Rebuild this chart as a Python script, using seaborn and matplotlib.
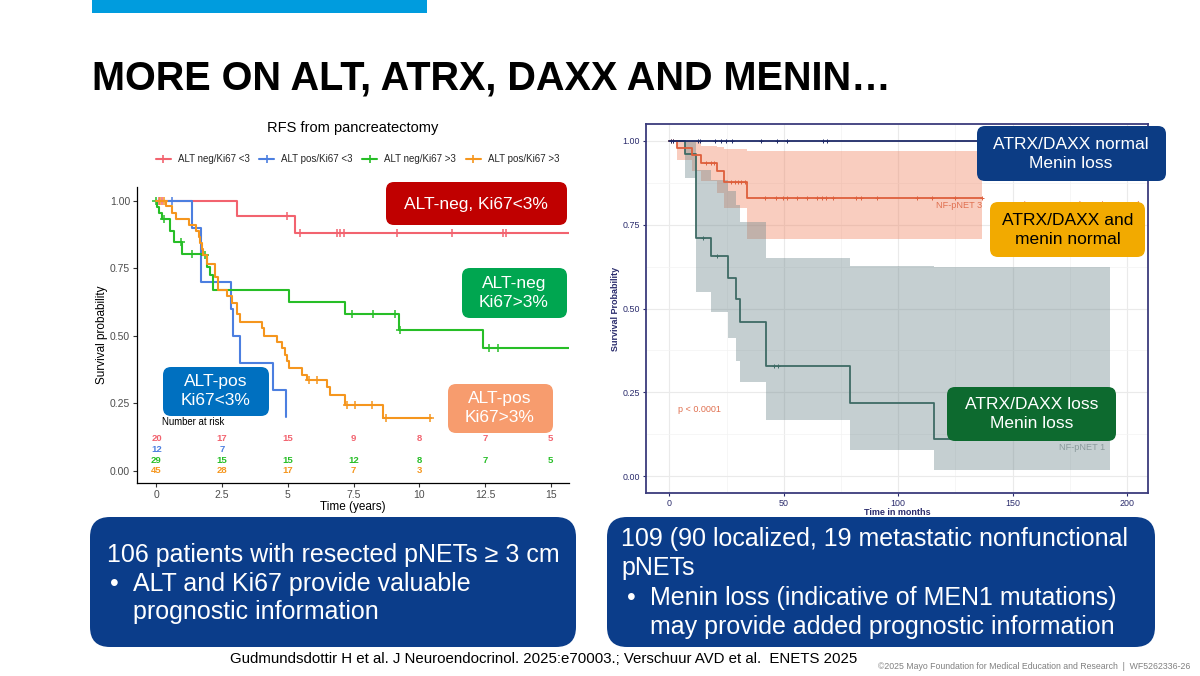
import numpy as np
import matplotlib
matplotlib.use("Agg")
import matplotlib.pyplot as plt
import seaborn as sns
from matplotlib.patches import FancyBboxPatch, Rectangle
from matplotlib.lines import Line2D

W, H, DPI = 1200, 676, 100

# ---- left panel: RFS from pancreatectomy (years) ----
red_t = [0, 3.06, 5.26, 15.7]
red_s = [1.0, 0.941, 0.878, 0.878]
red_c = [0.1, 0.2, 4.97, 5.47, 6.87, 7.0, 7.12, 9.16, 11.23, 13.18, 13.32]

blue_t = [0, 1.35, 1.68, 2.85, 2.93, 3.19, 4.43, 4.94]
blue_s = [1.0, 0.90, 0.70, 0.60, 0.50, 0.40, 0.30, 0.20]
blue_c = [0.58]

green_t = [0, 0.02, 0.08, 0.2, 0.5, 0.65, 0.97, 1.73, 1.92, 2.05, 2.17,
           5.04, 7.19, 9.22, 12.42, 15.7]
green_s = [1.0, 0.975, 0.955, 0.931, 0.889, 0.846, 0.803, 0.797, 0.754, 0.723, 0.668,
           0.625, 0.582, 0.52, 0.455, 0.455]
green_c = [0.0, 0.27, 0.92, 1.35, 1.85, 7.44, 8.24, 9.06, 9.28, 12.65, 12.99]

orange_t = [0, 0.36, 0.58, 0.75, 1.22, 1.52, 1.62, 1.66, 1.74, 1.79, 1.92, 2.24, 2.36,
            2.68, 2.87, 3.06, 3.19, 4.01, 4.08, 4.59, 4.78, 4.90, 4.97, 5.03, 5.54,
            5.73, 6.49, 6.59, 7.19, 8.62, 10.45]
orange_s = [1.0, 0.978, 0.955, 0.932, 0.909, 0.887, 0.865, 0.842, 0.82, 0.797, 0.766,
            0.717, 0.668, 0.645, 0.62, 0.58, 0.55, 0.528, 0.50, 0.478, 0.455, 0.43,
            0.405, 0.38, 0.355, 0.335, 0.31, 0.28, 0.245, 0.197, 0.197]
orange_c = [0.15, 0.27, 5.79, 6.11, 7.25, 7.57, 8.21, 8.75, 10.40]

left_labels = ["ALT neg/Ki67 <3", "ALT pos/Ki67 <3", "ALT neg/Ki67 >3", "ALT pos/Ki67 >3"]
left_colors = ["#F2636F", "#4C7FE0", "#27BE27", "#F5961E"]

risk_times = [0, 2.5, 5, 7.5, 10, 12.5, 15]
risk_red = ["20", "17", "15", "9", "8", "7", "5"]
risk_blue = ["12", "7", "", "", "", "", ""]
risk_green = ["29", "15", "15", "12", "8", "7", "5"]
risk_orange = ["45", "28", "17", "7", "3", "", ""]

# ---- right panel: survival (months) ----
normal_t = [0, 185]
normal_s = [1.0, 1.0]
normal_c = [0.7, 1.5, 12.4, 13.2, 19.9, 22.4, 24.6, 27.4, 39.9, 47.0, 51.6, 67.0, 68.8]

loss_t = [0, 6.85, 11.5, 18.2, 25.7, 29.1, 30.7, 42.1, 78.9, 115.6, 192.5]
loss_s = [1.0, 0.96, 0.709, 0.657, 0.592, 0.527, 0.459, 0.328, 0.219, 0.11, 0.11]
loss_lo = [1.0, 0.889, 0.55, 0.49, 0.413, 0.343, 0.28, 0.167, 0.078, 0.02, 0.02]
loss_hi = [1.0, 1.0, 0.913, 0.884, 0.849, 0.809, 0.759, 0.652, 0.628, 0.625, 0.625]
loss_c = [14.5, 20.7, 45.8, 47.5]

nf3_t = [0, 3.2, 9.9, 14.0, 20.7, 24.1, 33.8, 136.5]
nf3_s = [1.0, 0.978, 0.957, 0.935, 0.91, 0.876, 0.828, 0.828]
nf3_lo = [1.0, 0.943, 0.91, 0.88, 0.845, 0.80, 0.7075, 0.7075]
nf3_hi = [1.0, 1.0, 1.0, 0.985, 0.98, 0.975, 0.97, 0.97]
nf3_c = [0.7, 1.5, 16, 18, 19.5, 27, 28.5, 30, 31.5, 33, 41.6, 46.6, 49.6, 51.6, 55.8,
         60, 64.7, 66.7, 68.3, 71.7, 81.7, 83.9, 90.9, 108.4, 114.8, 124.8, 136.5]

NAVY_TXT = "#2A2B6C"


def px_rect(x0, y0, x1, y1):
    """pixel box (top-left origin) -> figure fraction rect"""
    return [x0 / W, (H - y1) / H, (x1 - x0) / W, (y1 - y0) / H]


def add_box(fig, x0, y0, x1, y1, color, r):
    patch = FancyBboxPatch((x0 / DPI, (H - y1) / DPI), (x1 - x0) / DPI, (y1 - y0) / DPI,
                           boxstyle=f"round,pad=0,rounding_size={r / DPI}",
                           transform=fig.dpi_scale_trans, fc=color, ec="none", zorder=5)
    fig.add_artist(patch)


def add_text(fig, x, y, s, **kw):
    kw.setdefault("zorder", 6)
    fig.text(x / DPI, (H - y) / DPI, s, transform=fig.dpi_scale_trans, **kw)


def km_curve(ax, t, s, cens, color, lw, ms, mew):
    sns.lineplot(x=t, y=s, drawstyle="steps-post", color=color, lw=lw, ax=ax,
                 sort=False, estimator=None)
    idx = np.searchsorted(t, cens, side="right") - 1
    ax.plot(cens, np.asarray(s)[idx], ls="none", marker="+", color=color,
            ms=ms, mew=mew)


sns.set_theme(style="white")
plt.rcParams["font.family"] = ["Liberation Sans", "DejaVu Sans"]

fig = plt.figure(figsize=(W / DPI, H / DPI), dpi=DPI)
fig.patch.set_facecolor("white")

# slide header
fig.add_artist(Rectangle((92 / W, (H - 13) / H), (427 - 92) / W, 13 / H,
                         transform=fig.transFigure, fc="#009CDE", ec="none"))
add_text(fig, 92, 90, "MORE ON ALT, ATRX, DAXX AND MENIN…", fontsize=28.5,
         fontweight="bold", color="black", va="baseline", ha="left")

# ---------------- left chart ----------------
ax1 = fig.add_axes(px_rect(137, 187, 569, 483))
for t, s, c, col in zip([red_t, blue_t, green_t, orange_t],
                        [red_s, blue_s, green_s, orange_s],
                        [red_c, blue_c, green_c, orange_c], left_colors):
    km_curve(ax1, t, s, c, col, 1.5, 6, 1.1)

ax1.set_xlim(-0.74, 15.7)
ax1.set_ylim(-0.045, 1.05)
ax1.set_xticks(risk_times)
ax1.set_xticklabels(["0", "2.5", "5", "7.5", "10", "12.5", "15"])
ax1.set_yticks([0, 0.25, 0.5, 0.75, 1.0])
ax1.set_yticklabels(["0.00", "0.25", "0.50", "0.75", "1.00"])
ax1.tick_params(axis="both", labelsize=7.5, labelcolor="#4D4D4D", length=3,
                width=0.8, color="#333333", pad=2, bottom=True, left=True)
sns.despine(ax=ax1)
for sp in ["left", "bottom"]:
    ax1.spines[sp].set_color("black")
    ax1.spines[sp].set_linewidth(0.9)
ax1.set_xlabel("Time (years)", fontsize=8.5, color="black", labelpad=1)
ax1.set_ylabel("Survival probability", fontsize=8.5, color="black", labelpad=1.5)

ax1.text(0.2, 0.18, "Number at risk", fontsize=6.9, color="black", ha="left", va="center")
for row_y, row, col in zip([0.118, 0.08, 0.04, 0.0],
                           [risk_red, risk_blue, risk_green, risk_orange], left_colors):
    for t, n in zip(risk_times, row):
        ax1.text(t, row_y, n, fontsize=6.8, fontweight="bold", color=col,
                 ha="center", va="center")

add_text(fig, 353, 128, "RFS from pancreatectomy", fontsize=10.5, color="black",
         ha="center", va="center")
handles = [Line2D([], [], color=c, lw=1.5, marker="+", ms=6, mew=1.2) for c in left_colors]
fig.legend(handles, left_labels, loc="center", bbox_to_anchor=(357.5 / W, 1 - 159 / H),
           ncol=4, frameon=False, fontsize=7, handlelength=1.55, handletextpad=0.7,
           columnspacing=1.0, borderaxespad=0, borderpad=0)

LS = 1.32
add_box(fig, 386, 182, 567, 225, "#C00000", 8)
add_text(fig, 476, 204, "ALT-neg, Ki67<3%", fontsize=12.5, color="white", ha="center", va="center")
add_box(fig, 462, 268, 567, 318, "#00A650", 8)
add_text(fig, 514, 293, "ALT-neg\nKi67>3%", fontsize=12.5, color="white", ha="center",
         va="center", linespacing=LS)
add_box(fig, 163, 367, 269, 416, "#0070C0", 8)
add_text(fig, 216, 391, "ALT-pos\nKi67<3%", fontsize=12.5, color="white", ha="center",
         va="center", linespacing=LS)
add_box(fig, 448, 384, 553, 433, "#F79C6E", 8)
add_text(fig, 500, 408, "ALT-pos\nKi67>3%", fontsize=12.5, color="white", ha="center",
         va="center", linespacing=LS)

# ---------------- right chart ----------------
ax2 = fig.add_axes(px_rect(646, 124, 1148, 493))
ax2.fill_between(nf3_t, nf3_lo, nf3_hi, step="post", color="#F0825F", alpha=0.4, lw=0)
ax2.fill_between(loss_t, loss_lo, loss_hi, step="post", color="#6E878C", alpha=0.4, lw=0)
km_curve(ax2, loss_t, loss_s, loss_c, "#3E6B65", 1.3, 3.2, 0.7)
km_curve(ax2, nf3_t, nf3_s, nf3_c, "#DE5F3C", 1.3, 3.2, 0.7)
km_curve(ax2, normal_t, normal_s, normal_c, "#1E2A68", 1.3, 3.2, 0.7)

ax2.set_xlim(-10.2, 209.2)
ax2.set_ylim(-0.05, 1.05)
ax2.set_xticks([0, 50, 100, 150, 200])
ax2.set_xticks([25, 75, 125, 175], minor=True)
ax2.set_yticks([0, 0.25, 0.5, 0.75, 1.0])
ax2.set_yticklabels(["0.00", "0.25", "0.50", "0.75", "1.00"])
ax2.set_yticks([0.125, 0.375, 0.625, 0.875], minor=True)
ax2.grid(which="major", color="#EAEAEA", lw=0.8)
ax2.grid(which="minor", color="#F3F3F3", lw=0.5)
ax2.set_axisbelow(True)
ax2.tick_params(axis="both", which="major", labelsize=6.4, labelcolor=NAVY_TXT,
                length=2.5, width=0.8, color=NAVY_TXT, pad=2, bottom=True, left=True)
ax2.tick_params(axis="both", which="minor", length=0)
for sp in ax2.spines.values():
    sp.set_color("#3B3C7C")
    sp.set_linewidth(1.3)
ax2.set_xlabel("Time in months", fontsize=6.5, fontweight="bold", color=NAVY_TXT, labelpad=0)
ax2.set_ylabel("Survival Probability", fontsize=6.5, fontweight="bold", color=NAVY_TXT,
               labelpad=1.5)

ax2.text(136.5, 0.806, "NF-pNET 3", fontsize=6.6, color="#E07050", ha="right", va="center")
ax2.text(144, 0.806, "ATRX/DAXX normal menin normal", fontsize=6.6, color="#E07050",
         ha="left", va="center")
ax2.text(190.5, 0.085, "NF-pNET 1", fontsize=6.6, color="#8A9A9C", ha="right", va="center")
ax2.text(4, 0.199, "p < 0.0001", fontsize=6.5, color="#E07050", ha="left", va="center")

add_box(fig, 977, 126, 1166, 181, "#0C3C84", 8)
add_text(fig, 1071, 154, "ATRX/DAXX normal\nMenin loss", fontsize=12.5, color="white",
         ha="center", va="center", linespacing=LS)
add_box(fig, 990, 202, 1145, 257, "#F2AA00", 8)
add_text(fig, 1068, 230, "ATRX/DAXX and\nmenin normal", fontsize=12.5, color="black",
         ha="center", va="center", linespacing=LS)
add_box(fig, 947, 387, 1116, 441, "#0D6A2F", 8)
add_text(fig, 1032, 414, "ATRX/DAXX loss\nMenin loss", fontsize=12.5, color="white",
         ha="center", va="center", linespacing=LS)

# ---------------- bottom text boxes ----------------
BOX_BLUE = "#0B3D8A"
add_box(fig, 90, 517, 576, 647, BOX_BLUE, 20)
add_text(fig, 107, 562, "106 patients with resected pNETs ≥ 3 cm", fontsize=18,
         color="white", va="baseline")
add_text(fig, 110, 591, "•", fontsize=18, color="white", va="baseline")
add_text(fig, 133, 591, "ALT and Ki67 provide valuable", fontsize=18, color="white",
         va="baseline")
add_text(fig, 133, 619, "prognostic information", fontsize=18, color="white", va="baseline")

add_box(fig, 607, 517, 1155, 647, BOX_BLUE, 20)
add_text(fig, 621, 546, "109 (90 localized, 19 metastatic nonfunctional", fontsize=18,
         color="white", va="baseline")
add_text(fig, 621, 575, "pNETs", fontsize=18, color="white", va="baseline")
add_text(fig, 627, 605, "•", fontsize=18, color="white", va="baseline")
add_text(fig, 650, 605, "Menin loss (indicative of MEN1 mutations)", fontsize=18,
         color="white", va="baseline")
add_text(fig, 650, 634, "may provide added prognostic information", fontsize=18,
         color="white", va="baseline")

add_text(fig, 230, 663, "Gudmundsdottir H et al. J Neuroendocrinol. 2025:e70003.; "
         "Verschuur AVD et al.  ENETS 2025", fontsize=10.8, color="black", va="baseline")
add_text(fig, 1190, 669, "©2025 Mayo Foundation for Medical Education and Research  |  "
         "WF5262336-26", fontsize=6.3, color="#808080", ha="right", va="baseline")

fig.savefig("out.png", dpi=DPI)
